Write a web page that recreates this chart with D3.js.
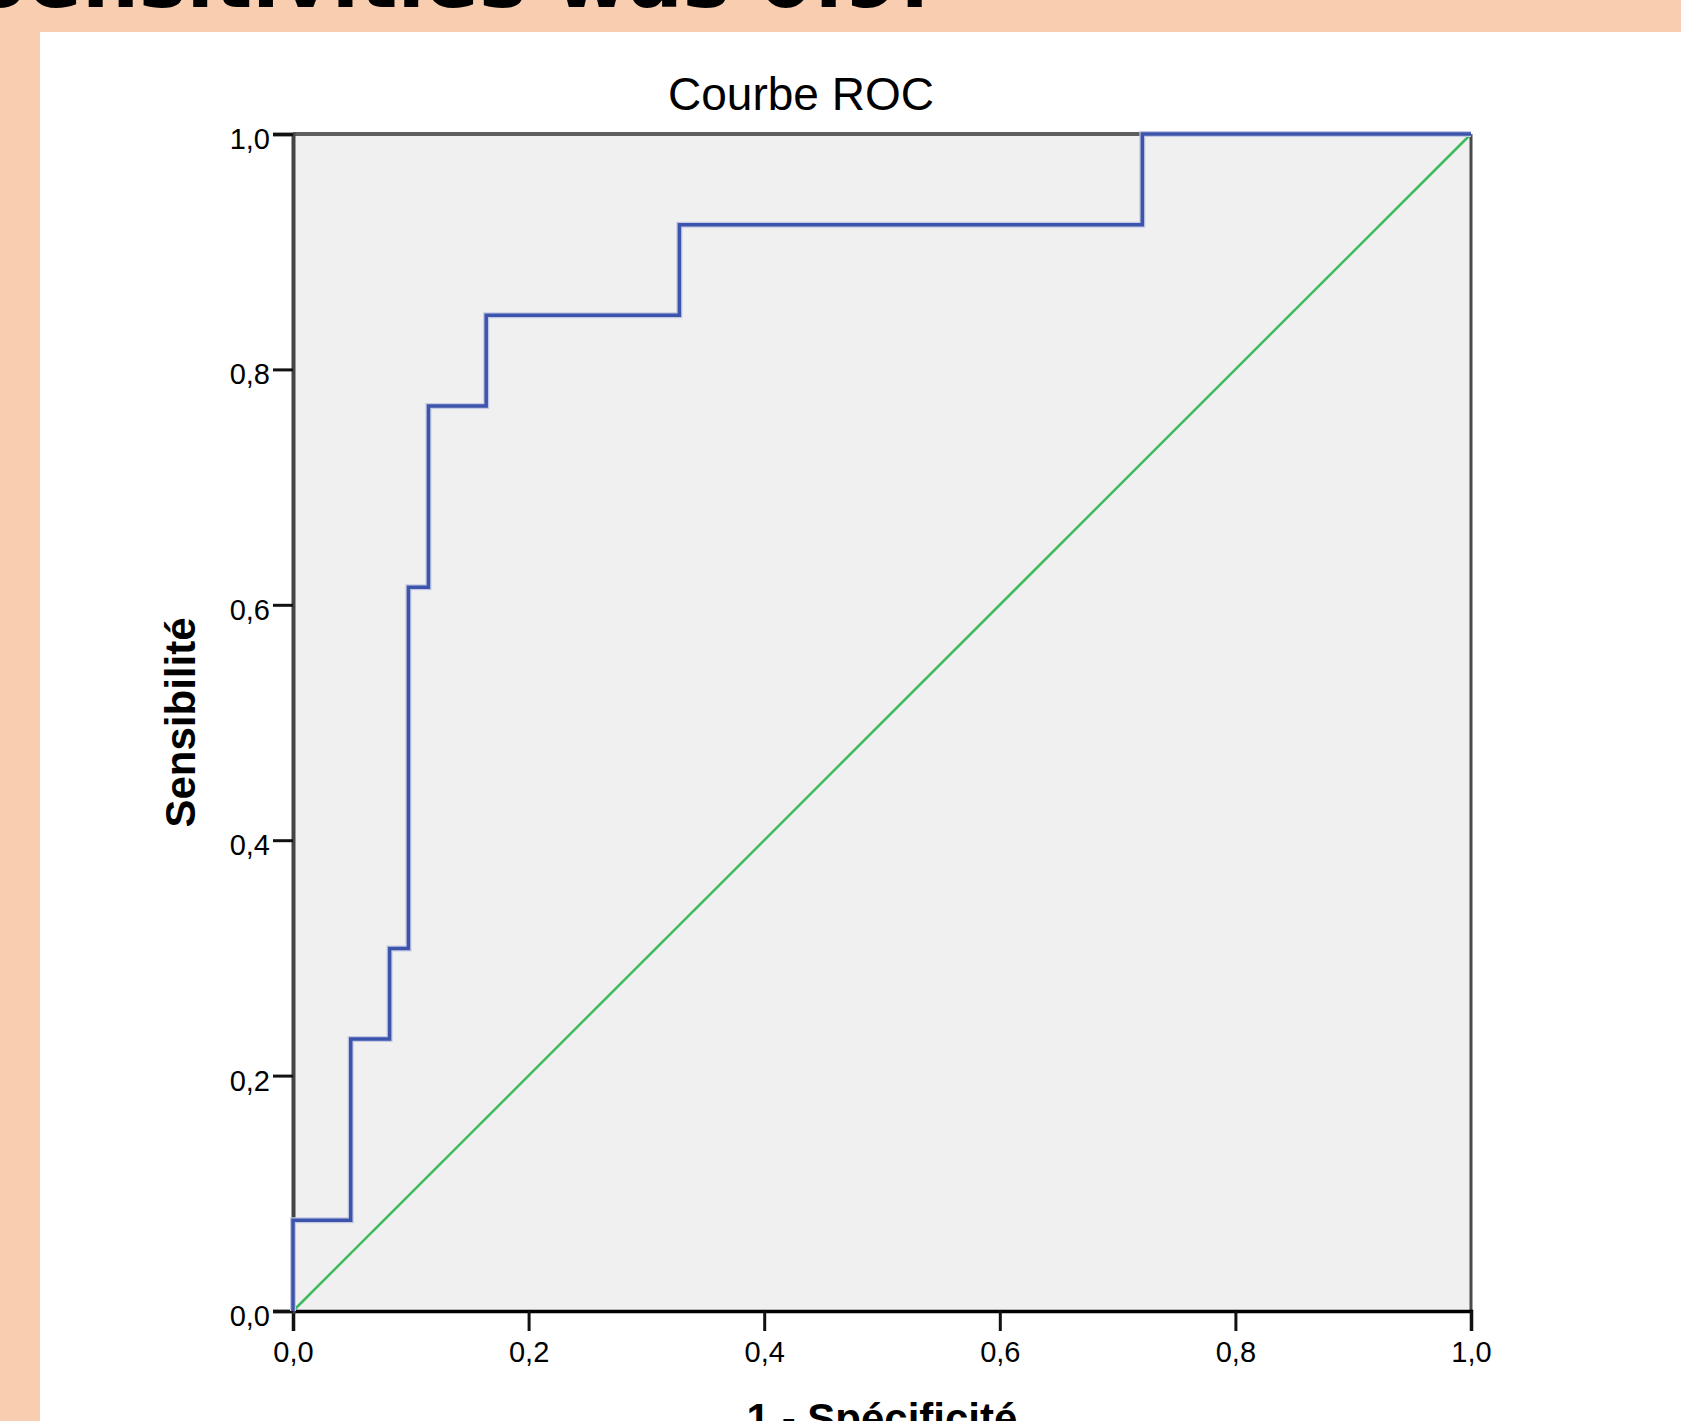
<!DOCTYPE html>
<html>
<head>
<meta charset="utf-8">
<script src="https://cdn.jsdelivr.net/npm/d3@7"></script>
<style>
  body { margin: 0; background: #f8cdb0; }
  svg { display: block; }
</style>
</head>
<body>
<div id="vis"></div>
<script>
// ROC coordinates (1 - specificity, sensitivity)
const fpr = [0, 0, 0.049, 0.049, 0.082, 0.082, 0.098, 0.098, 0.115, 0.115, 0.164, 0.164, 0.328, 0.328, 0.721, 0.721, 1];
const tpr = [0, 0.077, 0.077, 0.231, 0.231, 0.308, 0.308, 0.615, 0.615, 0.769, 0.769, 0.846, 0.846, 0.923, 0.923, 1, 1];
const refLine = [0, 1];
const tickValues = [0, 0.2, 0.4, 0.6, 0.8, 1];

const chartTitle = "Courbe ROC";
const xLabel = "1 - Spécificité";
const yLabel = "Sensibilité";
const slideText = "Sensitivities was 0.9.";

const width = 1681, height = 1421;
const margin = { top: 134, right: 210, bottom: 110, left: 293 };

const svg = d3.select("#vis").append("svg")
  .attr("width", width)
  .attr("height", height);

// slide background + white panel
svg.append("rect").attr("width", width).attr("height", height).attr("fill", "#f8cdb0");
svg.append("rect").attr("x", 40).attr("y", 32).attr("width", width - 40).attr("height", height - 32).attr("fill", "#fff");

// heading of the slide, mostly cropped off the top
svg.append("text")
  .attr("x", 930).attr("y", 7)
  .attr("text-anchor", "end")
  .attr("font-family", "DejaVu Sans")
  .attr("font-weight", "bold")
  .attr("font-size", 80)
  .attr("fill", "#000")
  .text(slideText);

const x = d3.scaleLinear().domain([0, 1]).range([margin.left, width - margin.right]);
const y = d3.scaleLinear().domain([0, 1]).range([height - margin.bottom, margin.top]);

// plot area
svg.append("rect")
  .attr("x", x(0)).attr("y", y(1))
  .attr("width", x(1) - x(0)).attr("height", y(0) - y(1))
  .attr("fill", "#f0f0f0");

// frame
svg.append("line").attr("x1", x(0)).attr("x2", x(1)).attr("y1", y(1)).attr("y2", y(1))
  .attr("stroke", "#5e5e5e").attr("stroke-width", 4);
svg.append("line").attr("x1", x(1)).attr("x2", x(1)).attr("y1", y(1)).attr("y2", y(0))
  .attr("stroke", "#4a4a4a").attr("stroke-width", 3);

// reference diagonal
const line = d3.line().x(d => x(d[0])).y(d => y(d[1]));
svg.append("path")
  .attr("d", line(refLine.map(v => [v, v])))
  .attr("fill", "none")
  .attr("stroke", "#3dbb5c")
  .attr("stroke-width", 2.5);

// axes
const xAxis = svg.append("g")
  .attr("transform", `translate(0,${y(0)})`)
  .call(d3.axisBottom(x).tickValues(tickValues).tickSize(20).tickPadding(10)
    .tickFormat(d => d3.format(".1f")(d).replace(".", ",")));
const yAxis = svg.append("g")
  .attr("transform", `translate(${x(0)},0)`)
  .call(d3.axisLeft(y).tickValues(tickValues).tickSize(20).tickPadding(3)
    .tickFormat(d => d3.format(".1f")(d).replace(".", ",")));

xAxis.select(".domain").attr("stroke", "#000").attr("stroke-width", 3.5);
yAxis.select(".domain").attr("stroke", "#444").attr("stroke-width", 4);
[xAxis, yAxis].forEach(g => {
  g.selectAll(".tick line").attr("stroke", "#111").attr("stroke-width", 3);
  g.selectAll(".tick text")
    .attr("font-family", "Liberation Sans, Arial")
    .attr("font-size", 29)
    .attr("fill", "#000");
});
yAxis.selectAll(".tick text").attr("dy", "0.5em");

// ROC curve (light halo under a darker core)
const roc = fpr.map((v, i) => [v, tpr[i]]);
svg.append("path")
  .attr("d", line(roc))
  .attr("fill", "none")
  .attr("stroke", "#c3c9e4")
  .attr("stroke-width", 6);
svg.append("path")
  .attr("d", line(roc))
  .attr("fill", "none")
  .attr("stroke", "#3d54ac")
  .attr("stroke-width", 3.5);

// titles
svg.append("text")
  .attr("x", 801).attr("y", 110)
  .attr("text-anchor", "middle")
  .attr("font-family", "Liberation Sans, Arial")
  .attr("font-size", 46)
  .attr("fill", "#000")
  .text(chartTitle);

svg.append("text")
  .attr("x", (x(0) + x(1)) / 2).attr("y", 1433)
  .attr("text-anchor", "middle")
  .attr("font-family", "Liberation Sans, Arial")
  .attr("font-weight", "bold")
  .attr("font-size", 42)
  .attr("fill", "#000")
  .text(xLabel);

svg.append("text")
  .attr("transform", `translate(195,${(y(0) + y(1)) / 2}) rotate(-90)`)
  .attr("text-anchor", "middle")
  .attr("font-family", "Liberation Sans, Arial")
  .attr("font-weight", "bold")
  .attr("font-size", 42)
  .attr("fill", "#000")
  .text(yLabel);
</script>
</body>
</html>
